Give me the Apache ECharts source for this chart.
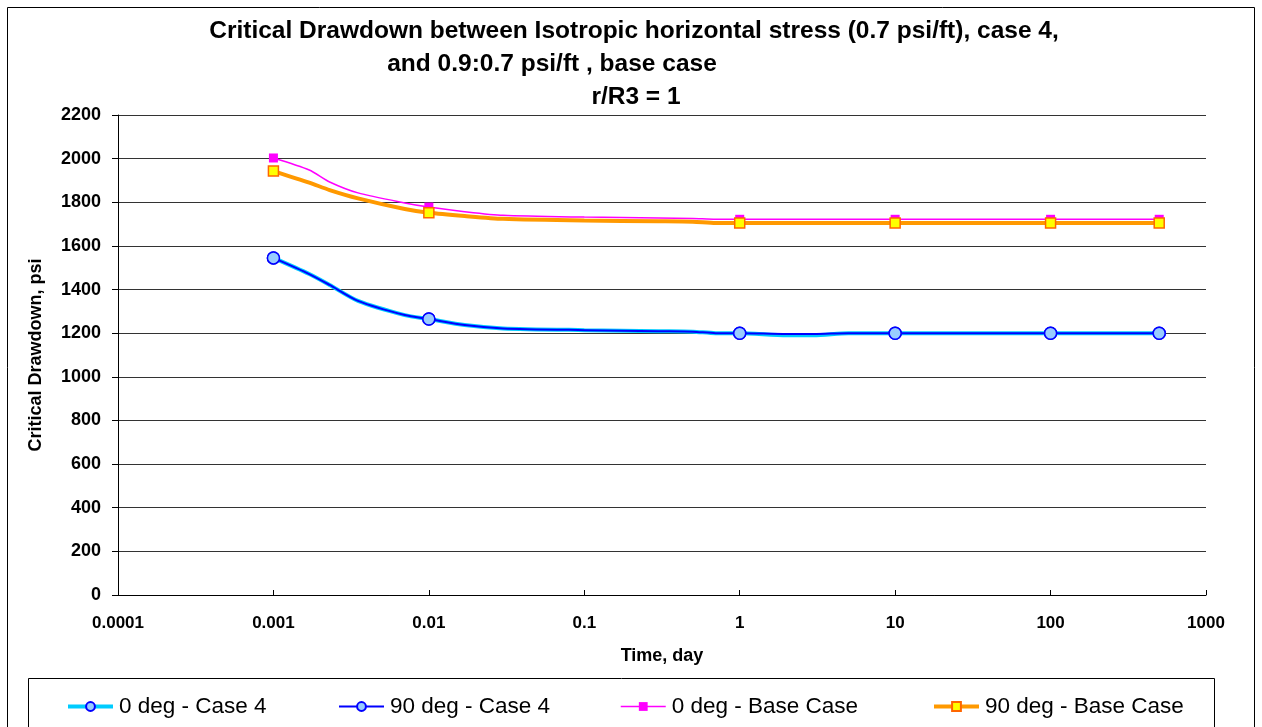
<!DOCTYPE html>
<html>
<head>
<meta charset="utf-8">
<script src="https://cdn.jsdelivr.net/npm/echarts@6/dist/echarts.min.js"></script>
<style>
html,body{margin:0;padding:0;background:#fff;}
#chart{width:1262px;height:727px;}
</style>
</head>
<body>
<div id="chart"></div>
<script>
// ---- data ----
const timeDays = [0.001, 0.0017, 0.0023, 0.0035, 0.007, 0.01, 0.017, 0.03, 0.1, 0.3, 0.5, 0.7, 1, 2, 3, 5, 10, 100, 500];
const markerTimes = [0.001, 0.01, 1, 10, 100, 500];
const deg0Case4   = [1545, 1471, 1421, 1348, 1283, 1265, 1237, 1222, 1214, 1209, 1207, 1200, 1200, 1190, 1190, 1200, 1200, 1200, 1200];
const deg90Case4  = [1545, 1471, 1421, 1348, 1283, 1265, 1237, 1222, 1214, 1209, 1207, 1200, 1200, 1196, 1196, 1200, 1200, 1200, 1200];
const deg0Base    = [2003, 1948, 1893, 1843, 1797, 1778, 1757, 1740, 1732, 1728, 1726, 1722, 1722, 1722, 1722, 1722, 1722, 1722, 1722];
const deg90Base   = [1943, 1890, 1856, 1818, 1769, 1752, 1737, 1724, 1716, 1713, 1711, 1705, 1705, 1705, 1705, 1705, 1705, 1705, 1705];
const seriesNames = ['0 deg - Case 4', '90 deg - Case 4', '0 deg - Base Case', '90 deg - Base Case'];
const xTickLabels = ['0.0001', '0.001', '0.01', '0.1', '1', '10', '100', '1000'];
const titleLines = ['Critical Drawdown between Isotropic horizontal stress (0.7 psi/ft), case 4,', 'and 0.9:0.7 psi/ft , base case', 'r/R3 = 1'];
const xAxisTitle = 'Time, day';
const yAxisTitle = 'Critical Drawdown, psi';

function build(values) {
  return timeDays.map((t, i) => {
    const marked = markerTimes.indexOf(t) >= 0;
    return marked ? { value: [t, values[i]] } : { value: [t, values[i]], symbol: 'none' };
  });
}

const FONT = '"Liberation Sans", Arial, sans-serif';
const chart = echarts.init(document.getElementById('chart'), null, { renderer: 'canvas' });

const legendPos = [66, 338, 620, 932];
const legendLineW = [4, 2, 1.5, 4];
const legends = seriesNames.map((n, i) => ({
  data: [{ name: n, lineStyle: { width: legendLineW[i] } }],
  left: legendPos[i], top: 695, padding: 0, itemWidth: 45, itemHeight: 11, itemGap: 0,
  textStyle: { fontFamily: FONT, fontSize: 22.5, color: '#000', padding: [0, 0, 0, 1] },
  selectedMode: false
}));

const option = {
  animation: false,
  backgroundColor: '#fff',
  textStyle: { fontFamily: FONT },
  grid: { left: 118, right: 56, top: 115, bottom: 132, containLabel: false },
  legend: legends,
  graphic: [
    { type: 'rect', shape: { x: 7.5, y: 7.5, width: 1247, height: 760 }, style: { fill: 'none', stroke: '#000', lineWidth: 1 }, z: -1 },
    { type: 'rect', shape: { x: 28.5, y: 678.5, width: 1186, height: 80 }, style: { fill: 'none', stroke: '#000', lineWidth: 1 } },
    { type: 'text', x: 634, y: 31, style: { text: titleLines[0], font: 'bold 24.5px ' + FONT, fill: '#000', textAlign: 'center', textVerticalAlign: 'middle' } },
    { type: 'text', x: 552, y: 64, style: { text: titleLines[1], font: 'bold 24.5px ' + FONT, fill: '#000', textAlign: 'center', textVerticalAlign: 'middle' } },
    { type: 'text', x: 636, y: 97, style: { text: titleLines[2], font: 'bold 24.5px ' + FONT, fill: '#000', textAlign: 'center', textVerticalAlign: 'middle' } }
  ],
  xAxis: {
    type: 'log', logBase: 10, min: 0.0001, max: 1000,
    name: xAxisTitle, nameLocation: 'middle', nameGap: 52,
    nameTextStyle: { fontFamily: FONT, fontSize: 18, fontWeight: 'bold', color: '#000' },
    axisLine: { lineStyle: { color: '#000', width: 1 } },
    axisTick: { show: true, inside: true, length: 5, lineStyle: { color: '#000' } },
    minorTick: { show: false },
    splitLine: { show: false },
    axisLabel: {
      margin: 20, fontFamily: FONT, fontSize: 17, fontWeight: 'bold', color: '#000',
      formatter: v => xTickLabels[Math.round(Math.log10(v)) + 4]
    }
  },
  yAxis: {
    type: 'value', min: 0, max: 2200, interval: 200,
    name: yAxisTitle, nameLocation: 'middle', nameGap: 73,
    nameTextStyle: { fontFamily: FONT, fontSize: 18, fontWeight: 'bold', color: '#000' },
    axisLine: { show: true, lineStyle: { color: '#000', width: 1 } },
    axisTick: { show: true, inside: false, length: 6, lineStyle: { color: '#000' } },
    splitLine: { show: true, lineStyle: { color: '#333', width: 1 } },
    axisLabel: { margin: 17, fontFamily: FONT, fontSize: 18, fontWeight: 'bold', color: '#000', formatter: v => String(v) }
  },
  series: [
    {
      name: seriesNames[0], type: 'line', data: build(deg0Case4), smooth: 0.25,
      symbol: 'circle', symbolSize: 12, showAllSymbol: true,
      lineStyle: { color: '#00CCFF', width: 4 },
      itemStyle: { color: '#99CCFF', borderColor: '#0000FF', borderWidth: 1.5 }
    },
    {
      name: seriesNames[1], type: 'line', data: build(deg90Case4), smooth: 0.25,
      symbol: 'circle', symbolSize: 12, showAllSymbol: true,
      lineStyle: { color: '#0000FF', width: 2 },
      itemStyle: { color: '#99CCFF', borderColor: '#0000FF', borderWidth: 1.5 }
    },
    {
      name: seriesNames[2], type: 'line', data: build(deg0Base), smooth: 0.25,
      symbol: 'rect', symbolSize: 9, showAllSymbol: true,
      lineStyle: { color: '#FF00FF', width: 1.5 },
      itemStyle: { color: '#FF00FF', borderColor: '#FF00FF', borderWidth: 0 }
    },
    {
      name: seriesNames[3], type: 'line', data: build(deg90Base), smooth: 0.25,
      symbol: 'rect', symbolSize: 10, showAllSymbol: true,
      lineStyle: { color: '#FF9900', width: 4 },
      itemStyle: { color: '#FFFF00', borderColor: '#FF6600', borderWidth: 1.5 }
    }
  ]
};
chart.setOption(option);
</script>
</body>
</html>
